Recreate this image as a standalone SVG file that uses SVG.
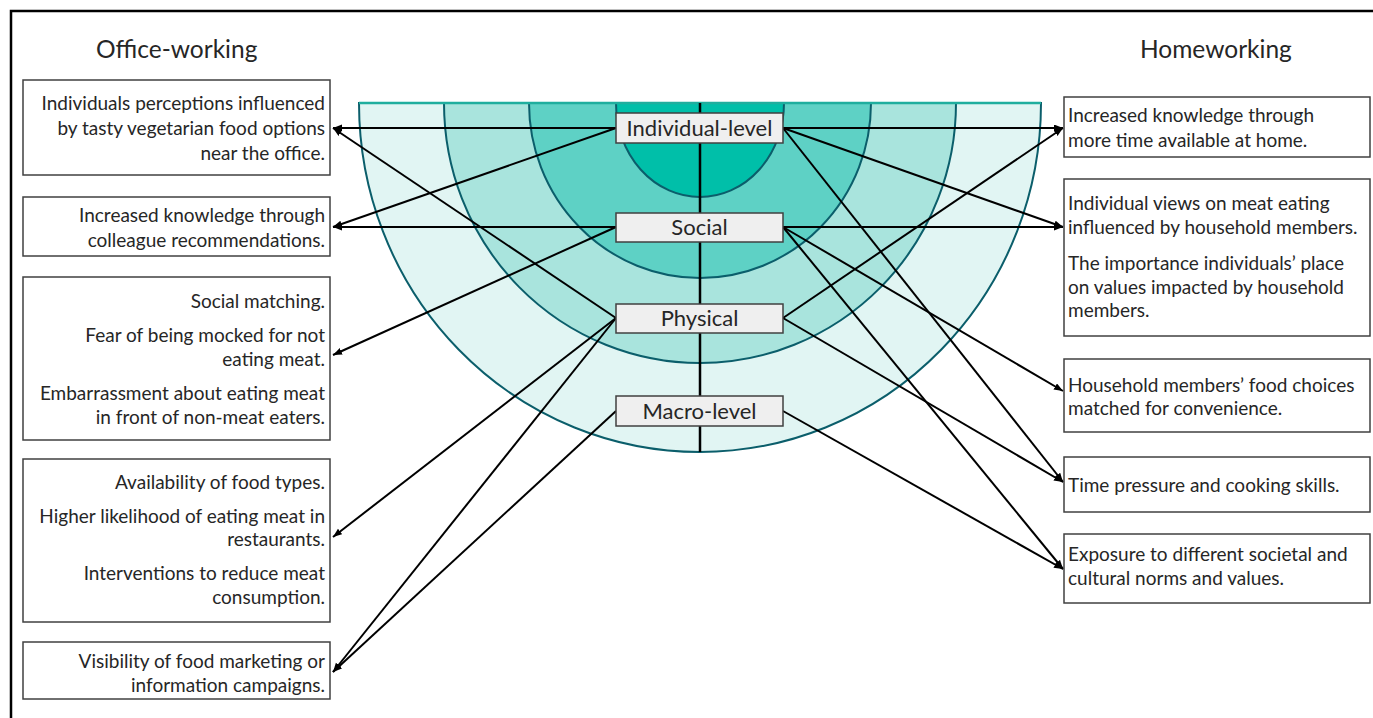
<svg xmlns="http://www.w3.org/2000/svg" width="1373" height="718" viewBox="0 0 1373 718">
<style>
.t{font-family:Lato,"Open Sans","Liberation Sans",sans-serif;fill:#262626}
.hdr{font-size:24.5px}
.bt{font-size:19px}
.lvl{font-size:22px;text-anchor:middle}
.box{fill:#ffffff;stroke:#404040;stroke-width:1.5}
.lbox{fill:#efefef;stroke:#404040;stroke-width:1.5}
.ring{stroke:#0b5e6b;stroke-width:2}
.c{stroke:#000;stroke-width:2;fill:none;marker-end:url(#ah)}
</style>
<defs>
<marker id="ah" markerUnits="userSpaceOnUse" markerWidth="10" markerHeight="8" refX="9" refY="3.5" orient="auto">
<path d="M0,0 L9,3.5 L0,7 z" fill="#000"/>
</marker>
</defs>
<rect width="1373" height="718" fill="#fff"/>
<path d="M11,718 L11,11 L1373,11" fill="none" stroke="#000" stroke-width="2.5"/>

<g id="headers">
<text class="t hdr" x="96" y="58">Office-working</text>
<text class="t hdr" x="1140" y="58">Homeworking</text>
</g>

<g id="rings">
<path class="ring" fill="#e1f5f3" d="M359,103 A341,349 0 0 0 1041,103 Z"/>
<path class="ring" fill="#a9e4dd" d="M444,103 A256,260 0 0 0 956,103 Z"/>
<path class="ring" fill="#5ed1c5" d="M529,103 A171,175 0 0 0 871,103 Z"/>
<path class="ring" fill="#00bfa9" d="M616,103 A84,94 0 0 0 784,103 Z"/>
<line x1="359" y1="103" x2="1041" y2="103" stroke="#1fae9e" stroke-width="2.5"/>
<line x1="700" y1="103" x2="700" y2="452" stroke="#000" stroke-width="2.5"/>
</g>

<g id="connectors">
<line class="c" x1="616" y1="128" x2="333" y2="128"/>
<line class="c" x1="616" y1="318" x2="333" y2="128"/>
<line class="c" x1="616" y1="128" x2="333" y2="227"/>
<line class="c" x1="616" y1="227" x2="333" y2="227"/>
<line class="c" x1="616" y1="227" x2="333" y2="355"/>
<line class="c" x1="616" y1="318" x2="333" y2="537"/>
<line class="c" x1="616" y1="318" x2="333" y2="672"/>
<line class="c" x1="616" y1="411" x2="333" y2="672"/>
<line class="c" x1="783" y1="128" x2="1063" y2="128"/>
<line class="c" x1="783" y1="318" x2="1063" y2="128"/>
<line class="c" x1="783" y1="128" x2="1063" y2="227"/>
<line class="c" x1="783" y1="227" x2="1063" y2="227"/>
<line class="c" x1="783" y1="227" x2="1063" y2="391"/>
<line class="c" x1="783" y1="128" x2="1063" y2="482"/>
<line class="c" x1="783" y1="318" x2="1063" y2="482"/>
<line class="c" x1="783" y1="227" x2="1063" y2="569"/>
<line class="c" x1="783" y1="411" x2="1063" y2="569"/>
</g>

<g id="level-individual">
<rect class="lbox" x="616" y="113" width="167" height="30"/>
<text class="t lvl" x="699.5" y="136">Individual-level</text>
</g>
<g id="level-social">
<rect class="lbox" x="616" y="213" width="167" height="29"/>
<text class="t lvl" x="699.5" y="235">Social</text>
</g>
<g id="level-physical">
<rect class="lbox" x="616" y="304" width="167" height="29"/>
<text class="t lvl" x="699.5" y="326">Physical</text>
</g>
<g id="level-macro">
<rect class="lbox" x="616" y="396" width="167" height="30"/>
<text class="t lvl" x="699.5" y="419">Macro-level</text>
</g>

<g id="office-1">
<rect class="box" x="23" y="80" width="307" height="95"/>
<text class="t bt" text-anchor="end"><tspan x="325" y="110">Individuals perceptions influenced</tspan><tspan x="325" y="135">by tasty vegetarian food options</tspan><tspan x="325" y="160">near the office.</tspan></text>
</g>
<g id="office-2">
<rect class="box" x="23" y="197" width="307" height="59"/>
<text class="t bt" text-anchor="end"><tspan x="325" y="222">Increased knowledge through</tspan><tspan x="325" y="247">colleague recommendations.</tspan></text>
</g>
<g id="office-3">
<rect class="box" x="23" y="277" width="307" height="163"/>
<text class="t bt" text-anchor="end"><tspan x="325" y="308">Social matching.</tspan><tspan x="325" y="342">Fear of being mocked for not</tspan><tspan x="325" y="366">eating meat.</tspan><tspan x="325" y="400">Embarrassment about eating meat</tspan><tspan x="325" y="424">in front of non-meat eaters.</tspan></text>
</g>
<g id="office-4">
<rect class="box" x="23" y="459" width="307" height="163"/>
<text class="t bt" text-anchor="end"><tspan x="325" y="489">Availability of food types.</tspan><tspan x="325" y="523">Higher likelihood of eating meat in</tspan><tspan x="325" y="546">restaurants.</tspan><tspan x="325" y="580">Interventions to reduce meat</tspan><tspan x="325" y="604">consumption.</tspan></text>
</g>
<g id="office-5">
<rect class="box" x="23" y="642" width="307" height="57"/>
<text class="t bt" text-anchor="end"><tspan x="325" y="668">Visibility of food marketing or</tspan><tspan x="325" y="692">information campaigns.</tspan></text>
</g>

<g id="home-1">
<rect class="box" x="1064" y="97" width="306" height="60"/>
<text class="t bt"><tspan x="1068" y="122">Increased knowledge through</tspan><tspan x="1068" y="147">more time available at home.</tspan></text>
</g>
<g id="home-2">
<rect class="box" x="1064" y="179" width="306" height="157"/>
<text class="t bt"><tspan x="1068" y="210">Individual views on meat eating</tspan><tspan x="1068" y="234">influenced by household members.</tspan><tspan x="1068" y="270">The importance individuals’ place</tspan><tspan x="1068" y="294">on values impacted by household</tspan><tspan x="1068" y="317">members.</tspan></text>
</g>
<g id="home-3">
<rect class="box" x="1064" y="359" width="306" height="73"/>
<text class="t bt"><tspan x="1068" y="392">Household members’ food choices</tspan><tspan x="1068" y="415">matched for convenience.</tspan></text>
</g>
<g id="home-4">
<rect class="box" x="1064" y="457" width="306" height="55"/>
<text class="t bt"><tspan x="1068" y="492">Time pressure and cooking skills.</tspan></text>
</g>
<g id="home-5">
<rect class="box" x="1064" y="534" width="306" height="69"/>
<text class="t bt"><tspan x="1068" y="561">Exposure to different societal and</tspan><tspan x="1068" y="585">cultural norms and values.</tspan></text>
</g>
</svg>
